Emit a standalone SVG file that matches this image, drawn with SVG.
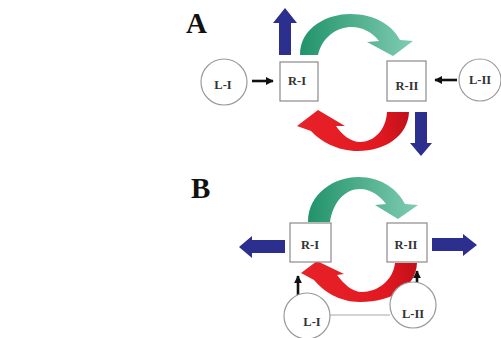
<svg xmlns="http://www.w3.org/2000/svg" width="501" height="338" viewBox="0 0 501 338">
<style>
.bg{fill:#ffffff}
.box{fill:#ffffff;stroke:#8a8a8a;stroke-width:1.2}
.circ{fill:#ffffff;stroke:#9a9a9a;stroke-width:1.2}
.lbl{font-family:"Liberation Serif","Times New Roman",serif;font-weight:bold;font-size:12.5px;fill:#333333;text-anchor:middle}
.panel{font-family:"Liberation Serif","Times New Roman",serif;font-weight:bold;font-size:29px;fill:#111111}
.blue{fill:#2c2f8e}
.blk{stroke:#111111;stroke-width:2.6;fill:none;marker-end:url(#ah)}
.link{stroke:#a8a8a8;stroke-width:1.2;fill:none}
</style>
<defs>
<marker id="ah" viewBox="0 0 10 10" refX="9" refY="5" markerWidth="3" markerHeight="3" orient="auto" markerUnits="strokeWidth">
<path d="M0,0 L10,5 L0,10 Z" fill="#111111"/>
</marker>
<linearGradient id="gA" gradientUnits="userSpaceOnUse" x1="300" y1="0" x2="413" y2="0">
<stop offset="0" stop-color="#21936a"/>
<stop offset="1" stop-color="#80ccb2"/>
</linearGradient>
<linearGradient id="gB" gradientUnits="userSpaceOnUse" x1="308" y1="0" x2="418" y2="0">
<stop offset="0" stop-color="#21936a"/>
<stop offset="1" stop-color="#80ccb2"/>
</linearGradient>
<linearGradient id="rA" gradientUnits="userSpaceOnUse" x1="409" y1="112" x2="298" y2="130">
<stop offset="0" stop-color="#c0101a"/>
<stop offset="0.3" stop-color="#e21820"/>
<stop offset="1" stop-color="#e8222a"/>
</linearGradient>
<linearGradient id="rB" gradientUnits="userSpaceOnUse" x1="417" y1="263" x2="302" y2="278">
<stop offset="0" stop-color="#c0101a"/>
<stop offset="0.3" stop-color="#e21820"/>
<stop offset="1" stop-color="#e8222a"/>
</linearGradient>
</defs>
<rect class="bg" x="0" y="0" width="501" height="338"/>

<text class="panel" x="186" y="33">A</text>
<text class="panel" x="191" y="198">B</text>

<g id="connectors">
<!-- Panel A -->
<path id="greenA" d="M300,55 C300,27 328,14 350,14 C375,14 392,25 400,40 L413,41 L393,56 L367,42 L379,41 C372,32 362,27 352,27 C337,27 322,37 318,55 Z" fill="url(#gA)"/>
<path id="redA" d="M387,112 L409,112 C408,136 385,151 358,151 C337,151 320,141 311,131 L297,126 L318,110 L345,126 L336,126 C342,135 351,142 360,142 C374,142 386,130 387,112 Z" fill="url(#rA)"/>
<polygon class="blue" points="279,55 291,55 291,23 297,23 285,8 273,23 279,23"/>
<polygon class="blue" points="415,112 427,112 427,143 432,143 421,156 410,143 415,143"/>
<line class="blk" x1="252" y1="81" x2="273" y2="81"/>
<line class="blk" x1="457" y1="80" x2="435" y2="80"/>
<!-- Panel B -->
<path id="greenB" d="M308,222 C308,193 335,177 358,177 C382,177 398,190 405,204 L418,205 L398,219 L375,205 L386,204 C380,196 371,189 360,189 C345,189 333,202 330,222 Z" fill="url(#gB)"/>
<path id="redB" d="M395,263 L417,263 C416,287 392,302 360,302 C339,302 323,291 314,280 L301,273 L317,261 L344,274 L337,275 C344,284 352,292 362,292 C377,292 393,281 395,263 Z" fill="url(#rB)"/>
<polygon class="blue" points="285,240 252,240 252,236 239,247 252,258 252,253 285,253"/>
<polygon class="blue" points="432,238 463,238 463,234 477,245 463,256 463,251 432,251"/>
<line class="blk" x1="298" y1="297" x2="298" y2="276"/>
<line class="blk" x1="417" y1="292" x2="417" y2="271"/>
<line class="link" x1="330" y1="315" x2="390" y2="315"/>
</g>

<g id="A-LI"><circle class="circ" cx="224" cy="82" r="23"/><text class="lbl" x="223" y="89">L-I</text></g>
<g id="A-RI"><rect class="box" x="280" y="62" width="38" height="39"/><text class="lbl" x="297" y="85">R-I</text></g>
<g id="A-RII"><rect class="box" x="387" y="61" width="39" height="40"/><text class="lbl" x="407" y="90">R-II</text></g>
<g id="A-LII"><circle class="circ" cx="480" cy="80" r="21"/><text class="lbl" x="480" y="84">L-II</text></g>

<g id="B-RI"><rect class="box" x="290" y="223" width="41" height="39"/><text class="lbl" x="310" y="249">R-I</text></g>
<g id="B-RII"><rect class="box" x="387" y="223" width="40" height="39"/><text class="lbl" x="406" y="249">R-II</text></g>
<g id="B-LI"><circle class="circ" cx="307" cy="316" r="23"/><text class="lbl" x="312" y="326">L-I</text></g>
<g id="B-LII"><circle class="circ" cx="413" cy="305" r="23"/><text class="lbl" x="413" y="318">L-II</text></g>
</svg>
